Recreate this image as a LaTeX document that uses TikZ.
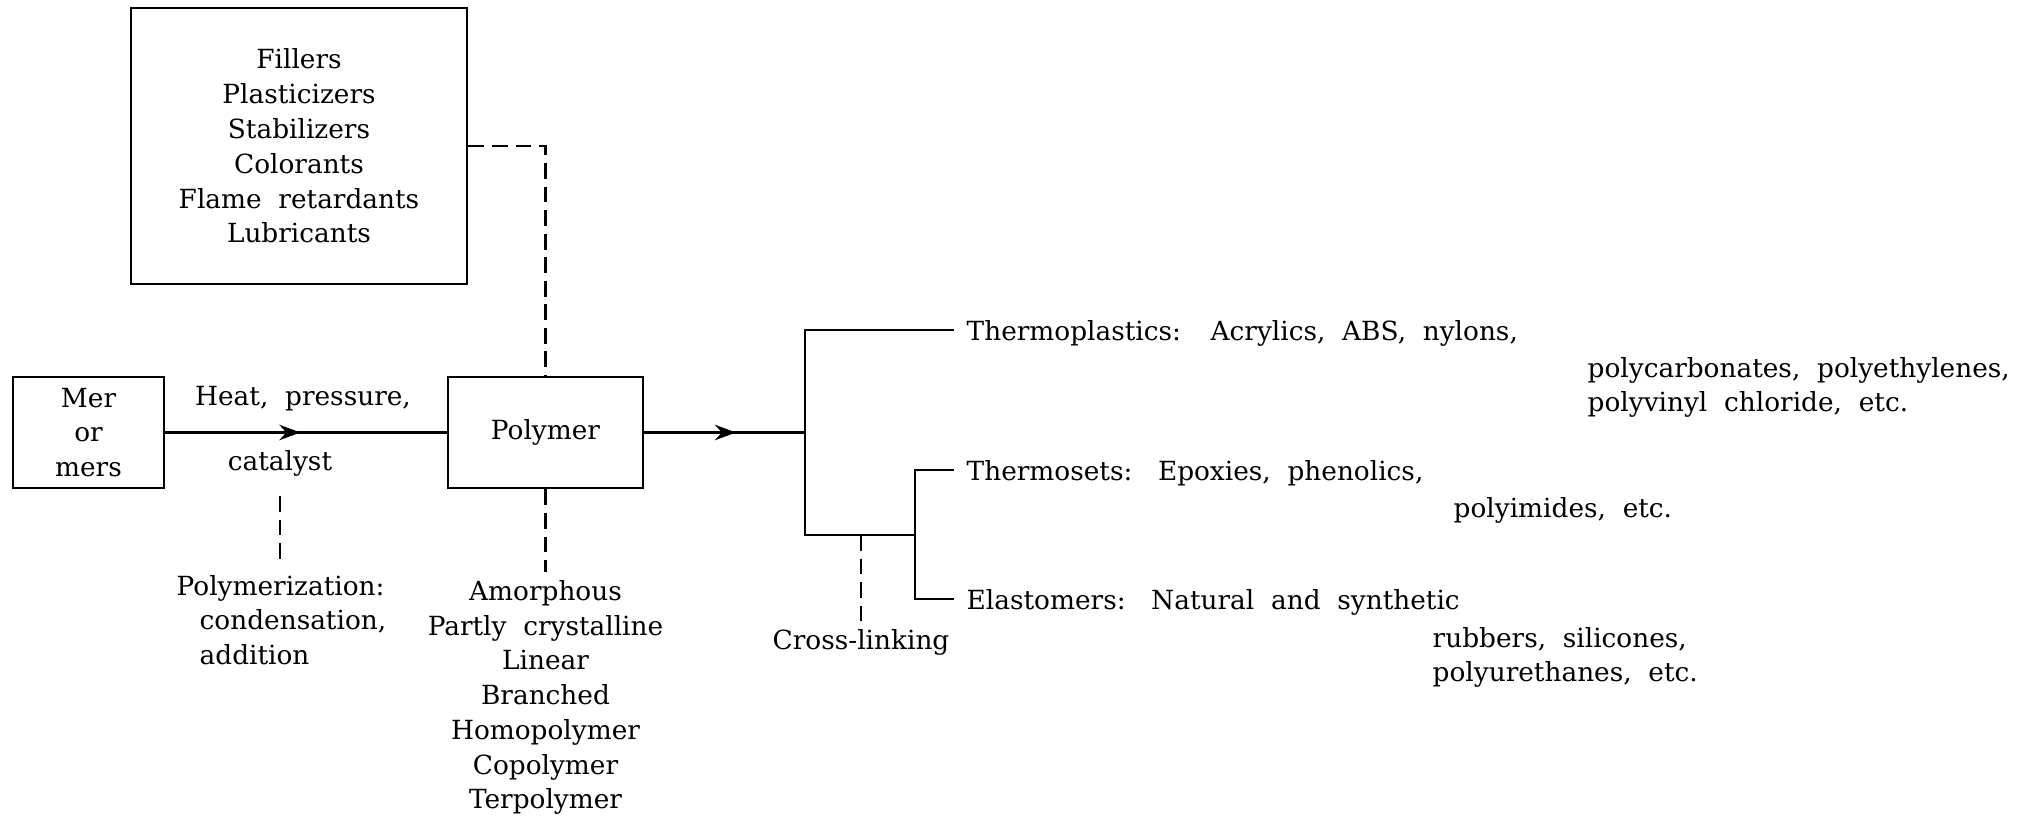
\documentclass[tikz,border=0pt]{standalone}
\usepackage{fontspec}
\setmainfont[WordSpace=2]{DejaVu Serif}
\usetikzlibrary{arrows.meta,decorations.markings}

\begin{document}
\begin{tikzpicture}[x=1cm,y=1cm,font=\fontsize{7.5}{9.9}\selectfont]
  \tikzstyle{box}=[draw=black, line width=0.8pt, align=center, inner sep=0pt]
  \tikzstyle{line}=[draw=black, line width=0.8pt]
  \tikzstyle{dashline}=[draw=black, line width=0.75pt, dash pattern=on 4.5pt off 2.2pt]
  \tikzstyle{label}=[align=center, inner sep=1pt]
  \tikzstyle{leftlabel}=[align=left, inner sep=0pt, anchor=west]
  \tikzstyle{branchlabel}=[align=left, inner sep=0pt, inner xsep=0.12cm, text depth=0pt, anchor=west]
  \tikzset{midarrow/.style={postaction={decorate}, decoration={markings, mark=at position #1 with {\arrow{Stealth[length=6pt,width=4.4pt,inset=2pt]}}}}}

  \path[use as bounding box] (0,0) rectangle (20.30,8.19);

  \node[box, minimum width=3.36cm, minimum height=2.76cm] (additives) at (2.99,6.73) {Fillers\\Plasticizers\\Stabilizers\\Colorants\\Flame retardants\\Lubricants};
  \node[box, minimum width=1.51cm, minimum height=1.11cm] (mer) at (0.885,3.865) {Mer\\or\\mers};
  \node[box, minimum width=1.95cm, minimum height=1.11cm] (polymer) at (5.455,3.865) {Polymer};

  \node[label] (heat) at (3.03,4.20) {Heat, pressure,};
  \node[label] (catalyst) at (2.80,3.56) {catalyst};
  \node[leftlabel] (polymerization) at (1.76,1.99) {Polymerization:\\\hspace*{0.23cm}condensation,\\\hspace*{0.23cm}addition};
  \node[label] (structure) at (5.455,1.215) {Amorphous\\Partly crystalline\\Linear\\Branched\\Homopolymer\\Copolymer\\Terpolymer};

  \coordinate (split) at (8.05,3.865);
  \coordinate (fork) at (8.05,2.84);
  \coordinate (crossjoin) at (9.15,2.84);

  \node[branchlabel] (plastics) at (9.54,4.89) {Thermoplastics:\hspace{0.1cm} Acrylics, ABS, nylons,};
  \node[leftlabel] (plasticsmore) at (15.87,4.315) {polycarbonates, polyethylenes,\\polyvinyl chloride, etc.};
  \node[branchlabel] (sets) at (9.54,3.49) {Thermosets:\hspace{0.06cm} Epoxies, phenolics,};
  \node[leftlabel] (setsmore) at (14.53,3.09) {polyimides, etc.};
  \node[branchlabel] (elast) at (9.54,2.20) {Elastomers:\hspace{0.06cm} Natural and synthetic};
  \node[leftlabel] (elastmore) at (14.32,1.615) {rubbers, silicones,\\polyurethanes, etc.};
  \node[label] (crosslink) at (8.61,1.77) {Cross-linking};

  \draw[line, midarrow=0.48] (mer.east) -- (polymer.west);
  \draw[line, midarrow=0.57] (polymer.east) -- (split);
  \draw[line] (plastics.west) -| (fork) -- (crossjoin);
  \draw[line] (sets.west) -| (crossjoin);
  \draw[line] (elast.west) -| (crossjoin);

  \draw[dashline] (additives.east) -| (polymer.north);
  \draw[dashline, shorten <=4.5pt, shorten >=2.8pt] (catalyst.south) -- (catalyst.south |- polymerization.north);
  \draw[dashline, shorten >=1pt] (polymer.south) -- (structure.north);
  \draw[dashline] (crosslink.north |- fork) -- (crosslink.north);
\end{tikzpicture}
\end{document}
